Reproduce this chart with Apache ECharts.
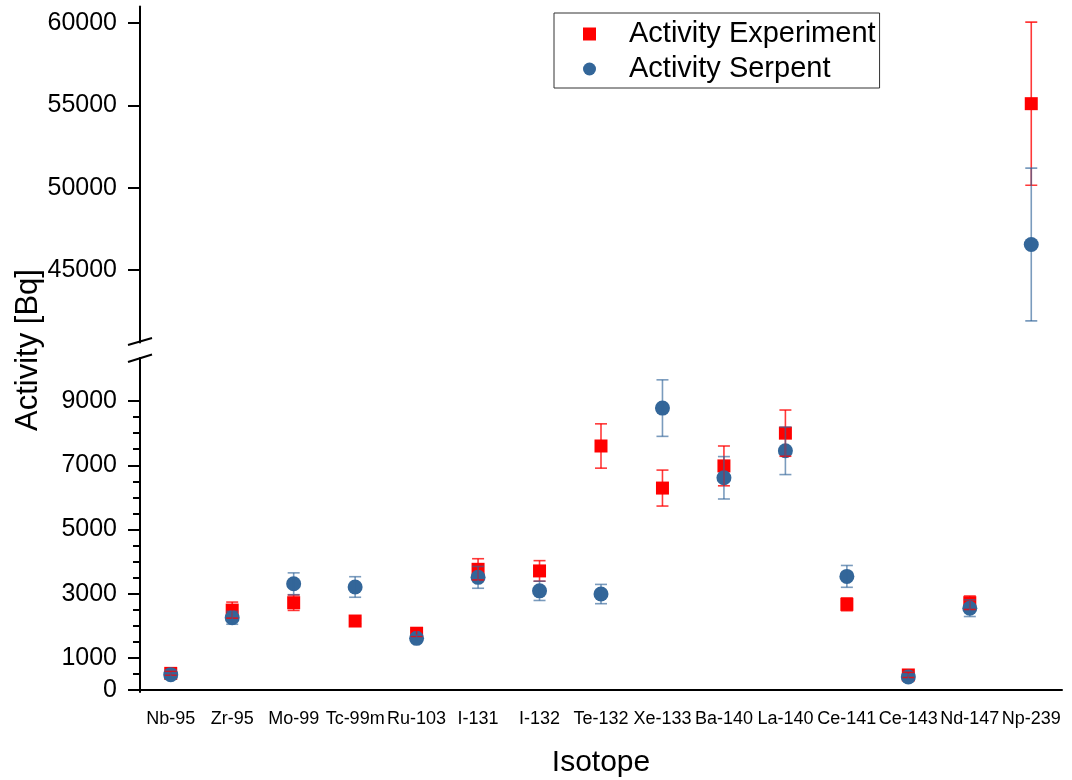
<!DOCTYPE html>
<html>
<head>
<meta charset="utf-8">
<title>Activity by isotope</title>
<script src="https://cdn.jsdelivr.net/npm/echarts@6/dist/echarts.min.js"></script>
<style>
  html, body { margin: 0; padding: 0; background: #ffffff; }
  #chart { width: 1072px; height: 780px; }
</style>
</head>
<body>
<div id="chart"></div>
<script>
// Isotopes on the category axis
const categories = ['Nb-95', 'Zr-95', 'Mo-99', 'Tc-99m', 'Ru-103', 'I-131', 'I-132',
  'Te-132', 'Xe-133', 'Ba-140', 'La-140', 'Ce-141', 'Ce-143', 'Nd-147', 'Np-239'];

// Measured activity [Bq] and its uncertainty
const expValues = [520, 2490, 2720, 2150, 1770, 3760, 3710, 7600, 6290, 6980, 8000, 2670, 470, 2720, 55100];
const expErrors = [60, 250, 240, 80, 100, 330, 320, 690, 560, 620, 720, 200, 80, 210, 4950];

// Serpent-calculated activity [Bq] and its uncertainty
const serpValues = [480, 2250, 3310, 3210, 1610, 3510, 3090, 2990, 8780, 6610, 7450, 3540, 410, 2550, 46550];
const serpErrors = [60, 200, 340, 320, 100, 340, 300, 300, 880, 660, 740, 340, 80, 260, 4640];

// Tick positions for the two segments of the broken value axis
const upperTicks = [45000, 50000, 55000, 60000];
const lowerTicks = [0, 1000, 3000, 5000, 7000, 9000];
const lowerMinorTicks = [500, 1500, 2000, 2500, 3500, 4000, 4500, 5500, 6000, 6500, 7500, 8000, 8500];

const NAME_EXP = 'Activity Experiment';
const NAME_SERP = 'Activity Serpent';
const RED = '#ff0000';
const BLUE = '#336699';
const FONT = '"Liberation Sans", Arial, Helvetica, sans-serif';

const chart = echarts.init(document.getElementById('chart'), null, { renderer: 'canvas' });

function pairs(values) {
  return values.map((v, i) => [i, v]);
}
function triples(values, errors) {
  return values.map((v, i) => [i, v, errors[i]]);
}
function plainNumber(v) {
  return String(Math.round(v));
}

// Vertical error bar with caps, clipped to its grid
function errorBarRenderer(color) {
  return function (params, api) {
    const x = api.value(0);
    const v = api.value(1);
    const e = api.value(2);
    const hi = api.coord([x, v + e]);
    const lo = api.coord([x, v - e]);
    const half = 6;
    const style = { stroke: color, lineWidth: 1.6, fill: null };
    return {
      type: 'group',
      children: [
        { type: 'line', shape: { x1: hi[0], y1: hi[1], x2: lo[0], y2: lo[1] }, style: style },
        { type: 'line', shape: { x1: hi[0] - half, y1: hi[1], x2: hi[0] + half, y2: hi[1] }, style: style },
        { type: 'line', shape: { x1: lo[0] - half, y1: lo[1], x2: lo[0] + half, y2: lo[1] }, style: style }
      ]
    };
  };
}

const axisLineStyle = { color: '#000000', width: 2 };
const labelStyle = { color: '#000000', fontFamily: FONT };

const grids = [
  { left: 140, width: 922, top: 6.5, height: 336 },   // upper segment
  { left: 140, width: 922, top: 358, height: 334 }    // lower segment
];

const xAxes = [
  {
    type: 'category', gridIndex: 0, data: categories, show: false
  },
  {
    type: 'category', gridIndex: 1, data: categories,
    axisLine: { lineStyle: axisLineStyle },
    axisTick: { alignWithLabel: true, length: 10, lineStyle: { color: '#000', width: 2 } },
    axisLabel: Object.assign({ interval: 0, fontSize: 18, margin: 18 }, labelStyle),
    name: 'Isotope', nameLocation: 'middle', nameGap: 56,
    nameTextStyle: Object.assign({ fontSize: 30 }, labelStyle)
  }
];

const yAxes = [
  {
    type: 'value', gridIndex: 0, min: 40600, max: 61000,
    splitLine: { show: false },
    axisLine: { show: true, lineStyle: axisLineStyle },
    axisTick: { show: true, length: 12, customValues: upperTicks, lineStyle: { color: '#000', width: 2 } },
    axisLabel: Object.assign({ fontSize: 25, margin: 23, customValues: upperTicks, formatter: plainNumber }, labelStyle)
  },
  {
    type: 'value', gridIndex: 1, min: -60, max: 10340,
    splitLine: { show: false },
    axisLine: { show: true, lineStyle: axisLineStyle },
    axisTick: { show: true, length: 12, customValues: lowerTicks, lineStyle: { color: '#000', width: 2 } },
    axisLabel: Object.assign({ fontSize: 25, margin: 23, customValues: lowerTicks, formatter: plainNumber }, labelStyle)
  },
  {
    // short minor ticks on the lower segment
    type: 'value', gridIndex: 1, min: -60, max: 10340, position: 'left',
    splitLine: { show: false },
    axisLine: { show: false },
    axisTick: { show: true, length: 7, customValues: lowerMinorTicks, lineStyle: { color: '#000', width: 2 } },
    axisLabel: { show: false }
  }
];

const series = [];
[[0, 0], [1, 1]].forEach(function (idx) {
  series.push({
    name: NAME_EXP, type: 'scatter', xAxisIndex: idx[0], yAxisIndex: idx[1],
    symbol: 'rect', symbolSize: 13, itemStyle: { color: RED, opacity: 1 },
    data: pairs(expValues), clip: true, z: 2
  });
});
[[0, 0], [1, 1]].forEach(function (idx) {
  series.push({
    name: NAME_SERP, type: 'scatter', xAxisIndex: idx[0], yAxisIndex: idx[1],
    symbol: 'circle', symbolSize: 15, itemStyle: { color: BLUE, opacity: 1 },
    data: pairs(serpValues), clip: true, z: 3
  });
});
[[0, 0], [1, 1]].forEach(function (idx) {
  series.push({
    name: 'exp-error', type: 'custom', xAxisIndex: idx[0], yAxisIndex: idx[1],
    renderItem: errorBarRenderer('rgba(255,0,0,0.78)'),
    data: triples(expValues, expErrors), clip: true, z: 4, silent: true
  });
  series.push({
    name: 'serp-error', type: 'custom', xAxisIndex: idx[0], yAxisIndex: idx[1],
    renderItem: errorBarRenderer('rgba(51,102,153,0.65)'),
    data: triples(serpValues, serpErrors), clip: true, z: 4, silent: true
  });
});

chart.setOption({
  animation: false,
  backgroundColor: '#ffffff',
  grid: grids,
  xAxis: xAxes,
  yAxis: yAxes,
  legend: {
    data: [{ name: NAME_EXP, icon: 'rect' }, { name: NAME_SERP, icon: 'circle' }],
    orient: 'vertical',
    left: 554, top: 13,
    padding: [6, 4, 4, 29],
    itemWidth: 13, itemHeight: 13, itemGap: 5,
    borderColor: '#333333', borderWidth: 1,
    selectedMode: false,
    textStyle: { color: '#000', fontFamily: FONT, fontSize: 29, lineHeight: 30, padding: [0, 0, 0, 28] }
  },
  graphic: [
    {
      type: 'text', x: 28, y: 350, rotation: Math.PI / 2,
      style: { text: 'Activity [Bq]', fill: '#000', font: '31px ' + FONT, textAlign: 'center', textVerticalAlign: 'middle' }
    },
    { type: 'line', shape: { x1: 128, y1: 345, x2: 152, y2: 338 }, style: { stroke: '#000', lineWidth: 2 } },
    { type: 'line', shape: { x1: 128, y1: 362, x2: 152, y2: 354.5 }, style: { stroke: '#000', lineWidth: 2 } }
  ],
  series: series
});
</script>
</body>
</html>
